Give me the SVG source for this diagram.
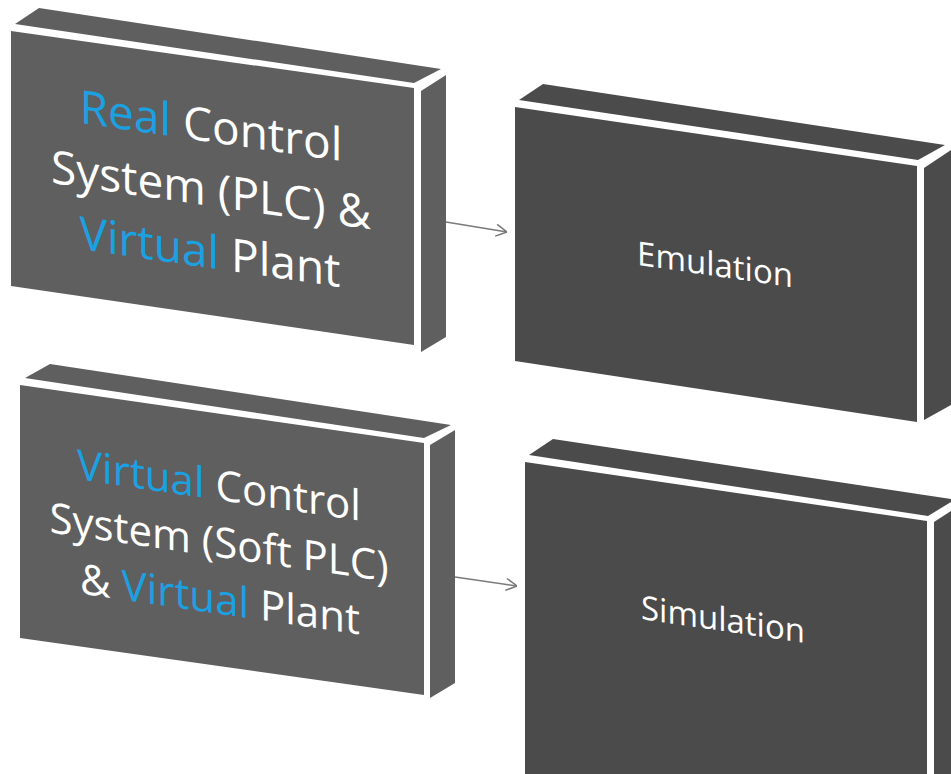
<svg xmlns="http://www.w3.org/2000/svg" width="951" height="774" viewBox="0 0 951 774">
<style>
.lt{fill:#5f5f5f}
.dk{fill:#4b4b4b}
.t{font-family:"Open Sans","Noto Sans","Liberation Sans",sans-serif;fill:#ffffff;text-anchor:middle}
.b{fill:#1ba1e2}
.con{stroke:#7a7a7a;stroke-width:1.5;fill:none}
</style>
<defs>
<marker id="ah" viewBox="0 0 12 14" refX="12" refY="7" markerWidth="12" markerHeight="14" markerUnits="userSpaceOnUse" orient="auto">
<path d="M1,1 L12,7 L1,13" fill="none" stroke="#7a7a7a" stroke-width="1.5"/>
</marker>
</defs>
<rect width="951" height="774" fill="#ffffff"/>
<g id="connectors">
<line class="con" x1="446" y1="222" x2="507" y2="232" marker-end="url(#ah)"/>
<line class="con" x1="455" y1="577" x2="517" y2="586" marker-end="url(#ah)"/>
</g>
<g id="node-real-control">
<polygon class="lt" points="11,31 414,88 414,345 11,286"/>
<polygon class="lt" points="15,24 39,8 441,69 414,83"/>
<polygon class="lt" points="421,91 446,75 446,337 421,352"/>
<text class="t" font-size="46" transform="translate(211,142) skewY(8.3)"><tspan class="b">Real</tspan> Control</text>
<text class="t" font-size="46" transform="translate(211,206) skewY(8.3)">System (PLC) &amp;</text>
<text class="t" font-size="46" transform="translate(210,268) skewY(8.3)"><tspan class="b">Virtual</tspan> Plant</text>
</g>
<g id="node-emulation">
<polygon class="dk" points="515,107 917,166 917,422 515,361"/>
<polygon class="dk" points="519,100 543,84 945,145 918,160"/>
<polygon class="dk" points="924,168 951,150 951,405 924,420"/>
<text class="t" font-size="33" transform="translate(715,276) skewY(8.3)">Emulation</text>
</g>
<g id="node-virtual-control">
<polygon class="lt" points="20,385 424,443 424,695 20,638"/>
<polygon class="lt" points="25,378 50,364 451,425 424,438"/>
<polygon class="lt" points="430,445 455,430 455,683 430,698"/>
<text class="t" font-size="42" transform="translate(219,500) skewY(8.3)"><tspan class="b">Virtual</tspan> Control</text>
<text class="t" font-size="42" transform="translate(219,557) skewY(8.3)">System (Soft PLC)</text>
<text class="t" font-size="42" transform="translate(220,614) skewY(8.3)">&amp; <tspan class="b">Virtual</tspan> Plant</text>
</g>
<g id="node-simulation">
<polygon class="dk" points="525,462 927,521 927,774 525,774 525,715"/>
<polygon class="dk" points="529,455 553,439 951,499 951,502 928,516"/>
<polygon class="dk" points="934,522 951,511 951,774 934,774"/>
<text class="t" font-size="33" transform="translate(723,631) skewY(8.3)">Simulation</text>
</g>
</svg>
